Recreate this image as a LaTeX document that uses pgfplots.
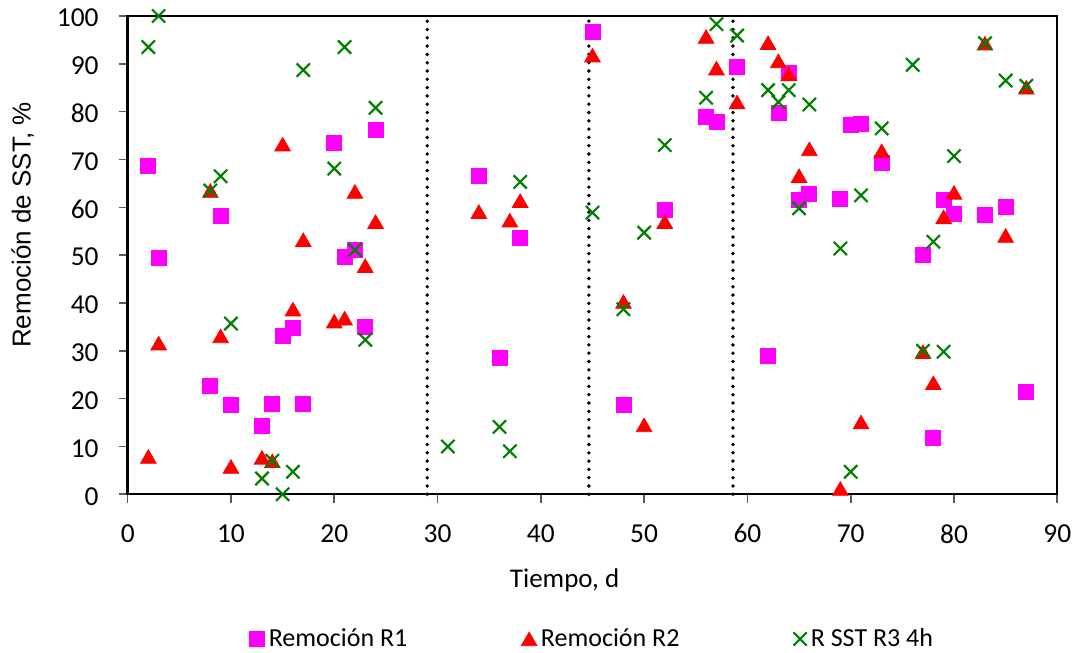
\documentclass[border=0pt]{standalone}
\usepackage{fontspec}
\setmainfont{Carlito}
\newfontfamily\arialf{Liberation Sans}
\usepackage{pgfplots}
\usepackage{pgfplotstable}
\pgfplotsset{compat=1.18}

\definecolor{rone}{HTML}{FF00FF}
\definecolor{rtwo}{HTML}{FF0000}
\definecolor{rthree}{HTML}{008000}

% Remoción R1 (día, %)
\pgfplotstableread{
x y
2 68.6
3 49.4
8 22.6
9 58.2
10 18.7
13 14.3
14 18.9
15 33.2
16 34.8
17 18.9
20 73.4
21 49.7
22 51.0
23 34.9
24 76.1
34 66.5
36 28.5
38 53.7
45 96.7
48 18.7
52 59.4
56 78.8
57 77.8
59 89.3
62 29.0
63 79.7
64 88.1
65 61.5
66 62.9
69 61.8
70 77.2
71 77.5
73 69.3
77 50.0
78 11.7
79 61.5
80 58.7
83 58.5
85 60.1
87 21.5
}\tabRone

% Remoción R2 (día, %)
\pgfplotstableread{
x y
2 7.9
3 31.6
8 63.5
9 33.1
10 5.8
13 7.7
14 7.0
15 73.2
16 38.7
17 53.2
20 36.2
21 36.8
22 63.3
23 47.8
24 57.0
34 59.1
37 57.3
38 61.4
45 91.8
48 40.3
50 14.5
52 57.0
56 95.7
57 89.1
59 82.0
62 94.4
63 90.6
64 87.9
65 66.6
66 72.2
69 1.2
71 15.1
73 71.8
77 29.8
78 23.3
79 58.0
80 63.1
83 94.3
85 54.1
87 85.1
}\tabRtwo

% R SST R3 4h (día, %)
\pgfplotstableread{
x y
2 93.5
3 100
8 63.5
9 66.5
10 35.7
13 3.3
14 7.0
15 0
16 4.7
17 88.7
20 68.1
21 93.5
22 51.1
23 32.3
24 80.8
31 10.0
36 14.1
37 9.0
38 65.3
45 58.9
48 38.7
50 54.7
52 73.0
56 82.9
57 98.3
59 95.9
62 84.5
63 82.0
64 84.5
65 59.8
66 81.5
69 51.4
70 4.7
71 62.5
73 76.5
76 89.8
77 30.0
78 52.8
79 29.8
80 70.7
83 94.3
85 86.5
87 85.4
}\tabRthree

\begin{document}
\begin{tikzpicture}
\path[use as bounding box] (-63.85pt,-79.35pt) rectangle (475.15pt,247.15pt);
\begin{axis}[
  at={(0,0)}, anchor=south west,
  scale only axis, width=464.8pt, height=239.15pt,
  xmin=0, xmax=90, ymin=0, ymax=100,
  xtick={0,10,...,90}, ytick={0,10,...,100},
  xtick pos=left, ytick pos=left,
  tick align=outside, major tick length=4.5pt,
  major tick style={gray!70!black, line width=0.8pt},
  axis line style={black, line width=1.2pt},
  clip=false,
  /pgf/number format/assume math mode=true,
  tick label style={font=\fontsize{13.7}{16}\selectfont, inner sep=0pt},
  xticklabel style={yshift=-10.35pt},
  yticklabel style={xshift=-9.85pt, yshift=-1pt},
  xlabel={Tiempo, d},
  xlabel style={font=\fontsize{13.5}{16}\selectfont, at={(axis description cs:0.47,-0.194)}, anchor=base},
  ylabel={Remoción de SST, \%},
  ylabel style={font=\arialf\fontsize{13}{15}\selectfont, at={(axis description cs:-0.113,0.563)}, anchor=center},
  legend columns=3,
  legend cell align=left,
  legend style={at={(axis description cs:0.501,-0.3025)}, anchor=center, draw=none,
    font=\fontsize{13}{16}\selectfont,
    /tikz/every even column/.append style={column sep=55pt}},
  legend image code/.code={\draw[#1] plot coordinates {(0pt,0pt)};},
]
\addplot[only marks, mark=square*, mark size=3.75pt, color=rone] table {\tabRone};
\addlegendentry{Remoción R1}
\addplot[only marks, mark=triangle*, mark size=4.5pt, color=rtwo, mark options={yshift=-1.12pt}] table {\tabRtwo};
\addlegendentry{Remoción R2}
\addplot[only marks, mark=x, mark size=4.7pt, color=rthree, line width=1.1pt] table {\tabRthree};
\addlegendentry{R SST R3 4h}

% period separators
\addplot[forget plot, black, line width=1.9pt, line cap=round, dash pattern=on 0pt off 4.15pt] coordinates {(29,0) (29,99)};
\addplot[forget plot, black, line width=1.9pt, line cap=round, dash pattern=on 0pt off 4.15pt] coordinates {(44.65,0) (44.65,99)};
\addplot[forget plot, black, line width=1.9pt, line cap=round, dash pattern=on 0pt off 4.15pt] coordinates {(58.6,0) (58.6,99)};
\end{axis}
\end{tikzpicture}
\end{document}
